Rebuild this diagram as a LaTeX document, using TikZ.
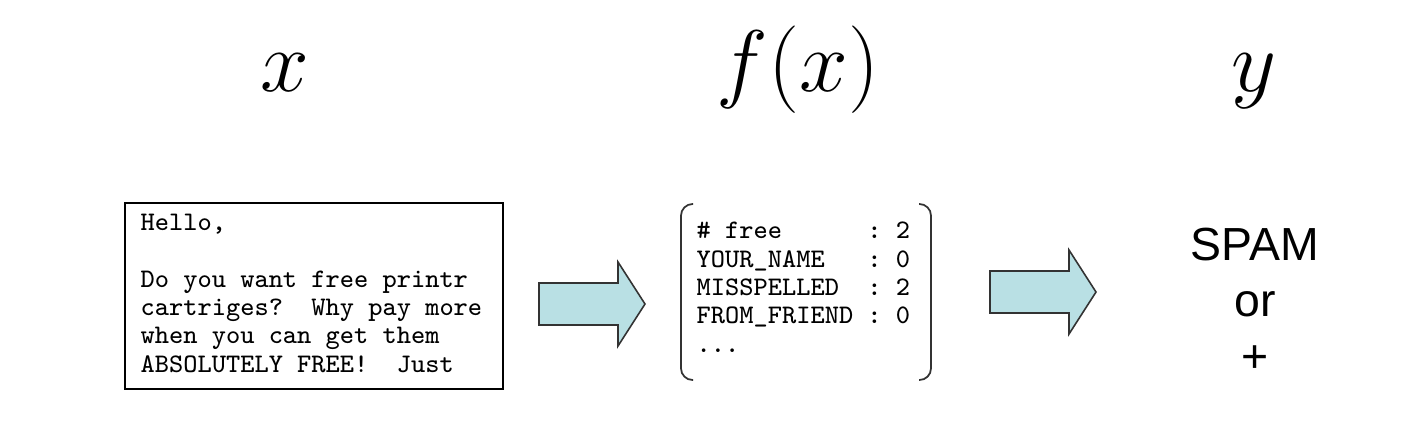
\documentclass[tikz,border=0pt]{standalone}
\usepackage{fontspec}
\newfontfamily\labelfont{Liberation Sans}

\definecolor{arrowfill}{RGB}{185,224,228}

\tikzset{
	mathlabel/.style={font=\fontsize{25}{30}\selectfont, inner sep=0pt, anchor=base},
	codetext/.style={font=\ttfamily\fontsize{7.62}{8.05}\selectfont\frenchspacing, align=left, inner sep=0pt, anchor=base west},
	blockarrow/.style={draw=black!80, fill=arrowfill, line width=0.45pt, line join=miter},
	bracket/.style={draw=black!80, line width=0.5pt, rounded corners=3.3pt},
}

\begin{document}
\begin{tikzpicture}[x=0.01cm, y=-0.01cm]
		\useasboundingbox (0,0) rectangle (1412,432);

		%headings
		\node[mathlabel] (xlab) at (285,91) {$x$};
		\node[mathlabel] (flab) at (798,91) {$f(x)$};
		\node[mathlabel] (ylab) at (1254,91) {$y$};

		%the mail (base = last line)
		\draw[line width=0.5pt] (125,203) rectangle (503,389);
		\node[codetext] (mail) at (140,372) {Hello,\\{}\\Do you want free printr\\cartriges?\ \ Why pay more\\when you can get them\\ABSOLUTELY FREE!\ \ Just};

		%the features
		\draw[bracket] (693,204) -| (681,380) -- (693,380);
		\draw[bracket] (919,204) -| (931,380) -- (919,380);
		\node[codetext] (feat) at (696,352) {\#\ free\ \ \ \ \ \ :\ 2\\YOUR\_NAME\ \ \ :\ 0\\MISSPELLED\ \ :\ 2\\FROM\_FRIEND\ :\ 0\\...};

		%the arrows
		\foreach \sx/\sy in {539/304, 990/292}
			\draw[blockarrow] (\sx,\sy) ++(0,-21) -- ++(79,0) -- ++(0,-21) -- ++(27,42) -- ++(-27,42) -- ++(0,-21) -- ++(-79,0) -- cycle;

		%the answer
		\node[font=\labelfont\fontsize{13.2}{15.8}\selectfont, align=center, inner sep=0pt, anchor=base] (answer) at (1255,372) {SPAM\\or\\+};

	\end{tikzpicture}
\end{document}
